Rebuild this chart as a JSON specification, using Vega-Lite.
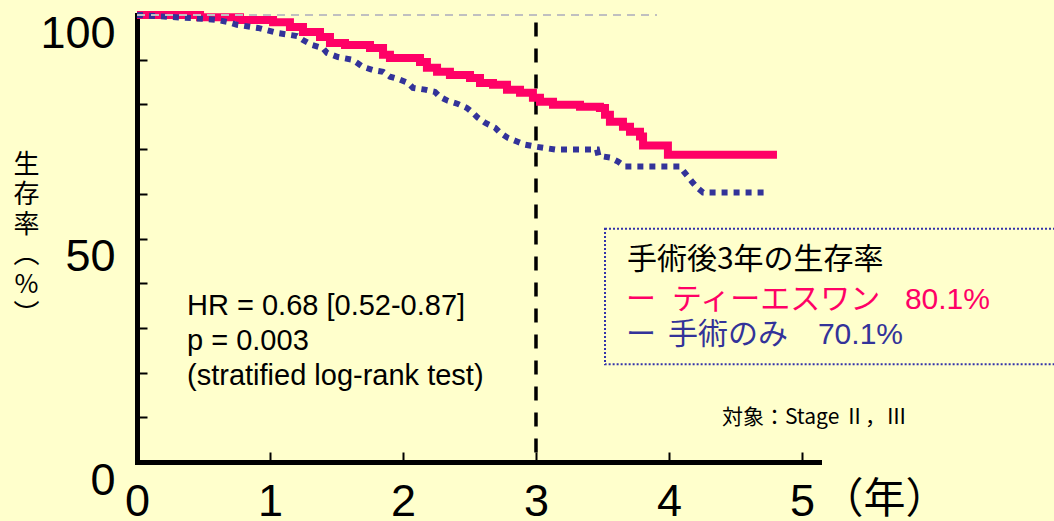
{
  "$schema": "https://vega.github.io/schema/vega-lite/v6.json",
  "width": 682,
  "height": 447,
  "autosize": "none",
  "padding": {"left": 137, "top": 15, "right": 235, "bottom": 59},
  "background": "#FFFFCC",
  "config": {"view": {"stroke": null}, "axis": {"grid": false}},
  "datasets": {
    "curves": [
      {"series": "ts1", "x": 0, "y": 100},
      {"series": "ts1", "x": 0.474, "y": 99.5},
      {"series": "ts1", "x": 0.774, "y": 98.9},
      {"series": "ts1", "x": 1.023, "y": 98.4},
      {"series": "ts1", "x": 1.15, "y": 97.3},
      {"series": "ts1", "x": 1.248, "y": 96.2},
      {"series": "ts1", "x": 1.376, "y": 95.1},
      {"series": "ts1", "x": 1.451, "y": 93.75},
      {"series": "ts1", "x": 1.564, "y": 93.3},
      {"series": "ts1", "x": 1.752, "y": 92.6},
      {"series": "ts1", "x": 1.85, "y": 91.1},
      {"series": "ts1", "x": 1.902, "y": 90.4},
      {"series": "ts1", "x": 2.128, "y": 89.5},
      {"series": "ts1", "x": 2.18, "y": 88.2},
      {"series": "ts1", "x": 2.256, "y": 87.3},
      {"series": "ts1", "x": 2.353, "y": 86.6},
      {"series": "ts1", "x": 2.504, "y": 85.9},
      {"series": "ts1", "x": 2.579, "y": 84.8},
      {"series": "ts1", "x": 2.677, "y": 84.4},
      {"series": "ts1", "x": 2.782, "y": 83.3},
      {"series": "ts1", "x": 2.88, "y": 82.6},
      {"series": "ts1", "x": 2.977, "y": 81.5},
      {"series": "ts1", "x": 3.03, "y": 80.6},
      {"series": "ts1", "x": 3.128, "y": 79.9},
      {"series": "ts1", "x": 3.331, "y": 79.5},
      {"series": "ts1", "x": 3.481, "y": 79.2},
      {"series": "ts1", "x": 3.519, "y": 77.7},
      {"series": "ts1", "x": 3.556, "y": 76.1},
      {"series": "ts1", "x": 3.654, "y": 75.0},
      {"series": "ts1", "x": 3.707, "y": 73.9},
      {"series": "ts1", "x": 3.782, "y": 72.8},
      {"series": "ts1", "x": 3.805, "y": 70.8},
      {"series": "ts1", "x": 3.992, "y": 68.75},
      {"series": "ts1", "x": 4.812, "y": 68.75},
      {"series": "surg", "x": 0, "y": 100},
      {"series": "surg", "x": 0.526, "y": 99.1},
      {"series": "surg", "x": 0.602, "y": 98.9},
      {"series": "surg", "x": 0.684, "y": 98.4},
      {"series": "surg", "x": 0.752, "y": 97.8},
      {"series": "surg", "x": 0.91, "y": 97.1},
      {"series": "surg", "x": 1.053, "y": 96.0},
      {"series": "surg", "x": 1.203, "y": 95.3},
      {"series": "surg", "x": 1.248, "y": 94.4},
      {"series": "surg", "x": 1.316, "y": 93.3},
      {"series": "surg", "x": 1.398, "y": 92.6},
      {"series": "surg", "x": 1.429, "y": 91.5},
      {"series": "surg", "x": 1.511, "y": 90.6},
      {"series": "surg", "x": 1.617, "y": 90.0},
      {"series": "surg", "x": 1.654, "y": 89.3},
      {"series": "surg", "x": 1.699, "y": 88.4},
      {"series": "surg", "x": 1.774, "y": 87.7},
      {"series": "surg", "x": 1.85, "y": 87.3},
      {"series": "surg", "x": 1.902, "y": 86.2},
      {"series": "surg", "x": 1.962, "y": 85.7},
      {"series": "surg", "x": 2.038, "y": 84.8},
      {"series": "surg", "x": 2.075, "y": 83.7},
      {"series": "surg", "x": 2.165, "y": 83.3},
      {"series": "surg", "x": 2.241, "y": 82.8},
      {"series": "surg", "x": 2.278, "y": 81.7},
      {"series": "surg", "x": 2.338, "y": 80.8},
      {"series": "surg", "x": 2.414, "y": 80.1},
      {"series": "surg", "x": 2.481, "y": 79.2},
      {"series": "surg", "x": 2.526, "y": 78.1},
      {"series": "surg", "x": 2.564, "y": 77.0},
      {"series": "surg", "x": 2.617, "y": 75.9},
      {"series": "surg", "x": 2.692, "y": 74.8},
      {"series": "surg", "x": 2.729, "y": 73.7},
      {"series": "surg", "x": 2.789, "y": 72.5},
      {"series": "surg", "x": 2.857, "y": 71.7},
      {"series": "surg", "x": 2.917, "y": 71.0},
      {"series": "surg", "x": 3.008, "y": 70.5},
      {"series": "surg", "x": 3.143, "y": 69.9},
      {"series": "surg", "x": 3.459, "y": 69.9},
      {"series": "surg", "x": 3.47, "y": 68.5},
      {"series": "surg", "x": 3.556, "y": 68.1},
      {"series": "surg", "x": 3.617, "y": 67.2},
      {"series": "surg", "x": 3.669, "y": 66.1},
      {"series": "surg", "x": 4.083, "y": 66.1},
      {"series": "surg", "x": 4.1, "y": 65.4},
      {"series": "surg", "x": 4.135, "y": 64.1},
      {"series": "surg", "x": 4.173, "y": 62.7},
      {"series": "surg", "x": 4.211, "y": 61.4},
      {"series": "surg", "x": 4.256, "y": 60.3},
      {"series": "surg", "x": 4.722, "y": 60.3}
    ],
    "refline": [{"x": 0, "y": 100}, {"x": 3.91, "y": 100}],
    "vline": [{"x": 3, "y": 98.3, "y2": 0}],
    "box": [{"x": 3.519, "x2": 6.94, "y": 52.2, "y2": 21.85}],
    "stats": [
      {"text": "HR = 0.68 [0.52-0.87]", "x": 0.376, "y": 34.9},
      {"text": "p = 0.003", "x": 0.376, "y": 27.1},
      {"text": "(stratified log-rank test)", "x": 0.376, "y": 19.2}
    ],
    "heading": [{"text": "手術後3年の生存率", "x": 3.684, "y": 45.2}],
    "entries": [
      {"series": "ts1", "text": "ー", "x": 3.677, "y": 36.2},
      {"series": "ts1", "text": "ティーエスワン", "x": 4.023, "y": 36.2},
      {"series": "surg", "text": "ー", "x": 3.677, "y": 28.4},
      {"series": "surg", "text": "手術のみ", "x": 3.992, "y": 28.4}
    ],
    "pcts": [
      {"series": "ts1", "text": "80.1%", "x": 5.774, "y": 36.2},
      {"series": "surg", "text": "70.1%", "x": 5.12, "y": 28.4}
    ],
    "note": [{"text": "対象：Stage Ⅱ，Ⅲ", "x": 4.398, "y": 9.84}]
  },
  "layer": [
    {
      "data": {"name": "vline"},
      "mark": {"type": "rule", "color": "black", "strokeWidth": 3.5, "strokeDash": [14, 12]},
      "encoding": {
        "x": {
          "field": "x", "type": "quantitative",
          "scale": {"domain": [0, 5.128], "nice": false, "zero": false},
          "axis": {
            "values": [0, 1, 2, 3, 4, 5],
            "format": "d",
            "domainColor": "black", "domainWidth": 5, "domainCap": "square",
            "tickColor": "black", "tickWidth": 2, "tickSize": -10,
            "labelFont": "Liberation Sans", "labelFontSize": 45, "labelColor": "black",
            "labelPadding": 27, "labelBaseline": "top", "labelFlush": false, "labelOverlap": false,
            "title": "（年）", "titleFont": "Noto Sans CJK JP", "titleFontSize": 42,
            "titleFontWeight": "normal", "titleColor": "black",
            "titleX": 747, "titleY": 37, "titleAlign": "center", "titleBaseline": "middle"
          }
        },
        "y": {
          "field": "y", "type": "quantitative",
          "scale": {"domain": [0, 100], "nice": false},
          "axis": {
            "values": [0, 10, 20, 30, 40, 50, 60, 70, 80, 90, 100],
            "labelExpr": "datum.value % 50 === 0 ? datum.label : ''",
            "domainColor": "black", "domainWidth": 5, "domainCap": "square",
            "tickColor": "black", "tickWidth": 2, "tickSize": -10,
            "labelFont": "Liberation Sans", "labelFontSize": 45, "labelColor": "black",
            "labelPadding": 32, "labelBaseline": "middle", "labelOffset": 18, "labelOverlap": false,
            "title": ["生", "存", "率", "︵", "%", "︶"],
            "titleFont": "Noto Sans CJK JP", "titleFontSize": 26, "titleFontWeight": "normal",
            "titleColor": "black", "titleAngle": 0, "titleLineHeight": 30,
            "titleX": -111, "titleY": 136, "titleAlign": "center", "titleBaseline": "top"
          }
        },
        "y2": {"field": "y2"}
      }
    },
    {
      "data": {"name": "curves"},
      "transform": [{"filter": "datum.series === 'ts1'"}],
      "mark": {"type": "line", "interpolate": "step-after", "color": "#FF0066", "strokeWidth": 8},
      "encoding": {
        "x": {"field": "x", "type": "quantitative"},
        "y": {"field": "y", "type": "quantitative"}
      }
    },
    {
      "data": {"name": "curves"},
      "transform": [{"filter": "datum.series === 'surg'"}],
      "mark": {"type": "line", "color": "#333399", "strokeWidth": 6, "strokeDash": [6, 6]},
      "encoding": {
        "x": {"field": "x", "type": "quantitative"},
        "y": {"field": "y", "type": "quantitative"}
      }
    },
    {
      "data": {"name": "refline"},
      "mark": {"type": "line", "color": "#C0C0C0", "strokeWidth": 2, "strokeDash": [8, 6]},
      "encoding": {
        "x": {"field": "x", "type": "quantitative"},
        "y": {"field": "y", "type": "quantitative"}
      }
    },
    {
      "data": {"name": "box"},
      "mark": {"type": "rect", "fill": null, "fillOpacity": 0, "stroke": "#3333AA", "strokeWidth": 2, "strokeDash": [2, 2]},
      "encoding": {
        "x": {"field": "x", "type": "quantitative"},
        "x2": {"field": "x2"},
        "y": {"field": "y", "type": "quantitative"},
        "y2": {"field": "y2"}
      }
    },
    {
      "data": {"name": "stats"},
      "mark": {"type": "text", "font": "Liberation Sans", "fontSize": 29, "align": "left", "baseline": "middle", "color": "black"},
      "encoding": {
        "x": {"field": "x", "type": "quantitative"},
        "y": {"field": "y", "type": "quantitative"},
        "text": {"field": "text"}
      }
    },
    {
      "data": {"name": "heading"},
      "mark": {"type": "text", "font": "Noto Sans CJK JP", "fontSize": 30, "align": "left", "baseline": "middle", "color": "black"},
      "encoding": {
        "x": {"field": "x", "type": "quantitative"},
        "y": {"field": "y", "type": "quantitative"},
        "text": {"field": "text"}
      }
    },
    {
      "data": {"name": "entries"},
      "mark": {"type": "text", "font": "Noto Sans CJK JP", "fontSize": 30, "align": "left", "baseline": "middle"},
      "encoding": {
        "x": {"field": "x", "type": "quantitative"},
        "y": {"field": "y", "type": "quantitative"},
        "text": {"field": "text"},
        "color": {"field": "series", "type": "nominal", "scale": {"domain": ["ts1", "surg"], "range": ["#FF0066", "#333399"]}, "legend": null}
      }
    },
    {
      "data": {"name": "pcts"},
      "mark": {"type": "text", "font": "Liberation Sans", "fontSize": 30, "align": "left", "baseline": "middle"},
      "encoding": {
        "x": {"field": "x", "type": "quantitative"},
        "y": {"field": "y", "type": "quantitative"},
        "text": {"field": "text"},
        "color": {"field": "series", "type": "nominal", "legend": null}
      }
    },
    {
      "data": {"name": "note"},
      "mark": {"type": "text", "font": "Noto Sans CJK JP", "fontSize": 21, "align": "left", "baseline": "middle", "color": "black"},
      "encoding": {
        "x": {"field": "x", "type": "quantitative"},
        "y": {"field": "y", "type": "quantitative"},
        "text": {"field": "text"}
      }
    }
  ]
}
